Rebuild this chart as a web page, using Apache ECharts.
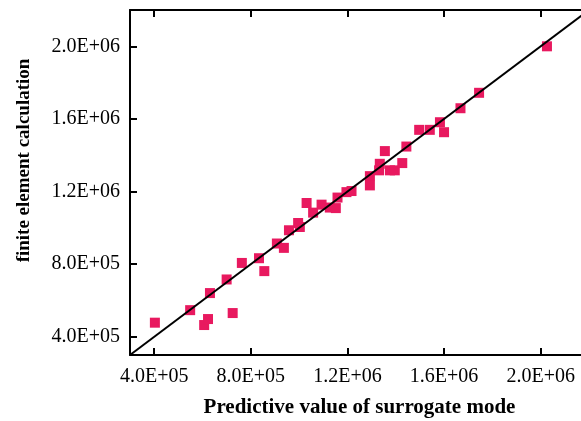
<!DOCTYPE html>
<html>
<head>
<meta charset="utf-8">
<script src="https://cdn.jsdelivr.net/npm/echarts@6/dist/echarts.min.js"></script>
<style>
  html, body { margin: 0; padding: 0; background: #fff; }
  #chart { width: 581px; height: 421px; }
</style>
</head>
<body>
<div id="chart"></div>
<script>
  // predicted value (surrogate model) vs finite element result
  var predicted = [403000, 549000, 607000, 623000, 631000, 700000, 725000, 763000,
    834000, 856000, 908000, 937000, 958000, 996000, 1003000, 1031000, 1058000,
    1093000, 1127000, 1152000, 1159000, 1196000, 1217000, 1293000, 1293000,
    1334000, 1331000, 1355000, 1376000, 1396000, 1427000, 1444000, 1497000,
    1541000, 1583000, 1600000, 1668000, 1745000, 2026000];
  var fem = [478000, 547000, 465000, 498000, 641000, 716000, 531000, 807000,
    833000, 762000, 914000, 890000, 987000, 1027000, 1005000, 1137000, 1084000,
    1128000, 1112000, 1109000, 1167000, 1197000, 1203000, 1285000, 1234000,
    1353000, 1317000, 1423000, 1317000, 1317000, 1357000, 1448000, 1540000,
    1540000, 1582000, 1527000, 1659000, 1744000, 2000000];
  var tickValues = [400000, 800000, 1200000, 1600000, 2000000];
  var axisRange = [300000, 2200000];
  var diagonal = [300000, 2200000];

  var fontFamily = '"Liberation Serif", "Times New Roman", serif';

  function sci(v) {
    var e = Math.floor(Math.log10(v));
    var m = (v / Math.pow(10, e)).toFixed(1);
    return m + 'E+' + (e < 10 ? '0' + e : e);
  }

  var points = [];
  for (var i = 0; i < predicted.length; i++) {
    points.push([predicted[i], fem[i]]);
  }
  var linePts = diagonal.map(function (v) { return [v, v]; });

  function makeAxis(pos, showLabel, name) {
    return {
      type: 'value',
      position: pos,
      min: axisRange[0],
      max: axisRange[1],
      name: name || '',
      nameLocation: 'middle',
      splitLine: { show: false },
      axisLine: { show: true, onZero: false, lineStyle: { color: '#000', width: 2 } },
      axisTick: {
        show: true, inside: true, length: 7,
        customValues: tickValues,
        lineStyle: { color: '#000', width: 2 }
      },
      axisLabel: {
        show: showLabel,
        customValues: tickValues,
        formatter: sci,
        color: '#000',
        fontFamily: fontFamily,
        fontSize: 20
      }
    };
  }

  var xBottom = makeAxis('bottom', true, 'Predictive value of surrogate mode');
  xBottom.axisLabel.margin = 12;
  xBottom.nameGap = 42;
  xBottom.nameTextStyle = { color: '#000', fontFamily: fontFamily, fontSize: 21, fontWeight: 'bold' };
  var xTop = makeAxis('top', false);

  var yLeft = makeAxis('left', true, 'finite element calculation');
  yLeft.axisLabel.margin = 10;
  yLeft.nameGap = 96;
  yLeft.nameTextStyle = { color: '#000', fontFamily: fontFamily, fontSize: 19, fontWeight: 'bold', padding: [0, 0, 0, 44] };
  var yRight = makeAxis('right', false);

  var chart = echarts.init(document.getElementById('chart'));
  chart.setOption({
    backgroundColor: '#fff',
    animation: false,
    grid: { left: 130, top: 10, right: -8, bottom: 66, containLabel: false, outerBoundsMode: 'none' },
    xAxis: [xBottom, xTop],
    yAxis: [yLeft, yRight],
    series: [
      {
        type: 'scatter',
        xAxisIndex: 0, yAxisIndex: 0,
        data: points,
        symbol: 'rect',
        symbolSize: 10,
        itemStyle: { color: '#E8195F', opacity: 1 },
        z: 2
      },
      {
        type: 'line',
        xAxisIndex: 0, yAxisIndex: 0,
        data: linePts,
        showSymbol: false,
        symbol: 'none',
        lineStyle: { color: '#000', width: 2 },
        z: 3
      }
    ]
  });
</script>
</body>
</html>
